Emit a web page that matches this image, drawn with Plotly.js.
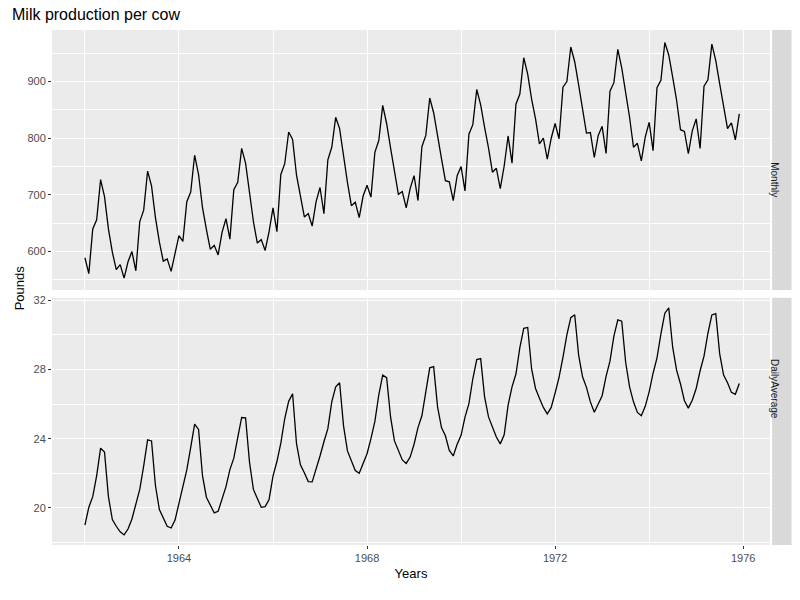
<!DOCTYPE html>
<html><head><meta charset="utf-8">
<script src="https://cdn.plot.ly/plotly-3.0.1.min.js"></script>
<style>body{margin:0}</style></head><body>
<div id="chart" style="width:800px;height:600px"></div>
<script>
const startYear = 1962;
const monthly = [
589,561,640,656,727,697,640,599,568,577,553,582,
600,566,653,673,742,716,660,617,583,587,565,598,
628,618,688,705,770,736,678,639,604,611,594,634,
658,622,709,722,782,756,702,653,615,621,602,635,
677,635,736,755,811,798,735,697,661,667,645,688,
713,667,762,784,837,817,767,722,681,687,660,698,
717,696,775,796,858,826,783,740,701,706,677,711,
734,690,785,805,871,845,801,764,725,723,690,734,
750,707,807,824,886,859,819,783,740,747,711,751,
804,756,860,878,942,913,869,834,790,800,763,800,
826,799,890,900,961,935,894,855,809,810,766,805,
821,773,883,898,957,924,881,837,784,791,760,802,
828,778,889,902,969,947,908,867,815,812,773,813,
834,782,892,903,966,937,896,858,817,827,797,843];
const tickVals = [1964,1968,1972,1976];
const tickText = ['1964','1968','1972','1976'];

const x = monthly.map((v,i)=>startYear+i/12);
const daysIn = (y,m)=>new Date(y,m+1,0).getDate();
const daily = monthly.map((v,i)=>v/daysIn(startYear+Math.floor(i/12), i%12));

const grid='#ffffff', bg='#EBEBEB';
const xa = {range:[1961.30,1976.57], tickvals:tickVals, ticktext:tickText, gridcolor:grid, gridwidth:1.2,
  showline:false, zeroline:false, ticks:'outside', ticklen:3, tickcolor:'#333',
  tickfont:{size:11,color:'#4d4d4d'}, minor:{tick0:1962,dtick:4,showgrid:true,gridcolor:grid,gridwidth:0.5}};
const layout = {
  width:800,height:600, paper_bgcolor:'#fff', plot_bgcolor:bg, showlegend:false,
  margin:{l:52,r:30,t:30,b:55},
  font:{family:'Liberation Sans, Arial',color:'#000'},
  title:{text:'Milk production per cow', x:0.015, xanchor:'left', y:0.985, yanchor:'top', font:{size:16}},
  xaxis:Object.assign({},xa,{anchor:'y2', title:{text:'Years', font:{size:13}, standoff:5}}),
  xaxis2:Object.assign({},xa,{anchor:'y', showticklabels:false, ticks:'', matches:'x'}),
  yaxis:{domain:[0.495,1], range:[532,991], tickvals:[600,700,800,900], gridcolor:grid, zeroline:false,
    ticks:'outside', ticklen:3, tickcolor:'#333', tickfont:{size:11,color:'#4d4d4d'},
    minor:{tick0:550,dtick:100,showgrid:true,gridcolor:grid,gridwidth:0.5}},
  yaxis2:{domain:[0,0.48], range:[17.85,32.15], tickvals:[20,24,28,32], gridcolor:grid, zeroline:false,
    ticks:'outside', ticklen:3, tickcolor:'#333', tickfont:{size:11,color:'#4d4d4d'},
    minor:{tick0:18,dtick:4,showgrid:true,gridcolor:grid,gridwidth:0.5}},
  shapes:[
    {type:'rect',xref:'paper',yref:'paper',x0:1.003,x1:1.03,y0:0.495,y1:1,fillcolor:'#D9D9D9',line:{width:0}},
    {type:'rect',xref:'paper',yref:'paper',x0:1.003,x1:1.03,y0:0,y1:0.48,fillcolor:'#D9D9D9',line:{width:0}}
  ],
  annotations:[
    {text:'Monthly',xref:'paper',yref:'paper',x:1.0165,y:0.7475,showarrow:false,textangle:90,font:{size:10,color:'#1a1a1a'}},
    {text:'DailyAverage',xref:'paper',yref:'paper',x:1.0165,y:0.24,showarrow:false,textangle:90,font:{size:10,color:'#1a1a1a'}},
    {text:'Pounds',xref:'paper',yref:'paper',x:-0.058,y:0.5,showarrow:false,textangle:-90,font:{size:13}}
  ]
};
Plotly.newPlot('chart',[
  {x:x,y:monthly,xaxis:'x2',yaxis:'y',mode:'lines',line:{color:'#000',width:1.3}},
  {x:x,y:daily,xaxis:'x',yaxis:'y2',mode:'lines',line:{color:'#000',width:1.3}}
],layout,{displayModeBar:false});
</script></body></html>
